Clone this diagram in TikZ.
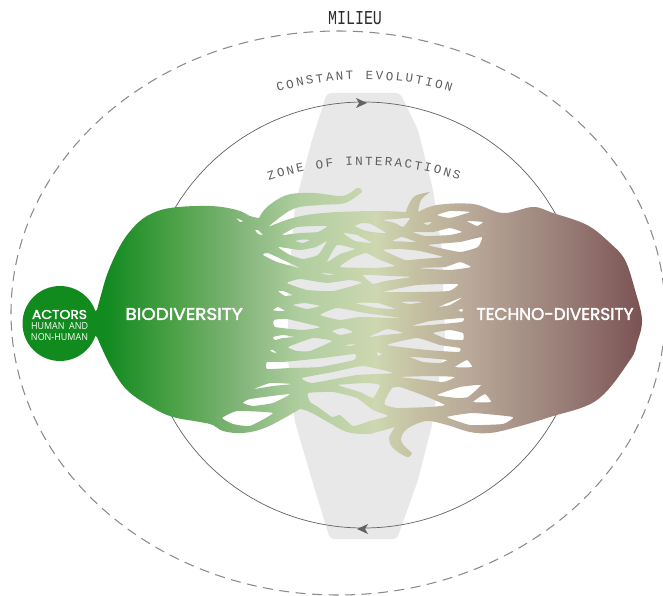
\documentclass[tikz,border=0pt]{standalone}
\usepackage{graphicx}
\usepackage{fontspec}
\setmainfont{Liberation Sans}
\newfontfamily\monofnt{Liberation Mono}
\newfontfamily\milfnt{Liberation Mono}
\newfontfamily\techfnt[FakeBold=2]{Poppins}
\newfontfamily\smallfnt{Open Sans}
\usetikzlibrary{decorations.text}
\definecolor{lineGrey}{HTML}{626262}
\definecolor{dashGrey}{HTML}{8A8A8A}
\definecolor{zoneGrey}{HTML}{E8E8E8}
\definecolor{textGrey}{HTML}{5E5E5E}
\definecolor{milieuInk}{HTML}{2E2E2E}
\definecolor{gradA}{HTML}{118A1E}
\definecolor{gradB}{HTML}{4FA24A}
\definecolor{gradC}{HTML}{85B67C}
\definecolor{gradD}{HTML}{B0CE9F}
\definecolor{gradE}{HTML}{CDD7B0}
\definecolor{gradF}{HTML}{C4BEA1}
\definecolor{gradG}{HTML}{B8A898}
\definecolor{gradH}{HTML}{9A7F79}
\definecolor{gradI}{HTML}{7B5253}
\pgfdeclarehorizontalshading{blobshade}{100bp}{
 color(0bp)=(gradA);
 color(26.8bp)=(gradA);
 color(33.3bp)=(gradB);
 color(39.2bp)=(gradC);
 color(44.3bp)=(gradD);
 color(51bp)=(gradE);
 color(55bp)=(gradF);
 color(59.6bp)=(gradG);
 color(67.6bp)=(gradH);
 color(75bp)=(gradI);
 color(100bp)=(gradI)}
\newcommand\hh[1]{plot[smooth cycle,tension=.25] coordinates {#1}}
\def\blobholes{
\hh{(282,235)(297,227)(327,226)(318,232)(300,233)}
\hh{(295,241)(303,239.5)(310,240)(303,243)}
\hh{(278,247)(300,250)(316,247)(327,241)(318,255)(303,259)(290,255)}
\hh{(327,262)(337,245)(355,249)(340,254)}
\hh{(343,233)(357,235)(372,243)(355,241)}
\hh{(355,226)(362,223)(371,224)(386,233)(372,232)(363,230)}
\hh{(383,220)(395,219)(410,218)(403,227)(395,223)}
\hh{(392,241)(402,237)(416,242)(402,241.5)}
\hh{(383,250)(400,249)(420,251)(443,257)(420,259)(405,260)}
\hh{(340,267)(352,258)(366,253)(380,260)(395,266)(375,268)}
\hh{(320,273)(335,274)(328,275)}
\hh{(363,275)(390,276)(411,277)(385,281)(373,284)}
\hh{(287,283)(300,279)(327,283)(350,280)(362,283)(333,291)(307,290)}
\hh{(383,292)(417,285)(458,284)(449,291)(415,292)}
\hh{(278,291)(283,291)(293,295)(285,296)}
\hh{(263,255)(268,253)(300,268)(277,262)}
\hh{(255,230)(258,230)(263,235)(258,234)}
\hh{(293,305)(305,303)(320,306)(307,309)}
\hh{(273,310)(278,307)(285,311)(277,311)}
\hh{(355,303)(378,303)(395,309)(377,308)}
\hh{(400,302)(412,301.5)(423,302)(410,304)}
\hh{(438,307)(463,297)(450,305)}
\hh{(458,310)(463,309)(462,312)}
\hh{(413,232)(433,232)(450,228)(462,232)(450,235)(425,236)}
\hh{(423,223)(432,222)(428,225)}
\hh{(437,215)(450,211)(470,212)(450,218)}
\hh{(467,221)(483,222)(477,226)}
\hh{(428,245)(460,242)(482,237)(478,247)(460,252)}
\hh{(417,268)(445,267)(460,262)(471,267)(450,270)}
\hh{(274,320)(287,319)(320,327)(303,330)(275,327)}
\hh{(320,315)(337,308)(365,313)(400,318)(360,317)(340,320)}
\hh{(332,331)(343,328)(353,332)(340,335)}
\hh{(273,337)(283,335)(295,337)(283,338)(275,340)}
\hh{(288,347)(313,338)(332,341)(310,351)(297,351)}
\hh{(345,345)(357,344)(350,346)}
\hh{(270,350)(273,350)(277,353)(272,352)}
\hh{(267,362)(283,362)(323,358)(355,354)(354,360)(320,367)(290,368)(267,369)}
\hh{(369,337)(387,329)(403,333)(383,335)}
\hh{(412,326)(430,321)(463,318)(462,322)(430,325)}
\hh{(433,333)(450,330)(463,333)(463,340)(447,339)}
\hh{(387,345)(417,338)(440,345)(460,348)(459,352)(427,350)}
\hh{(377,352)(382,354)(378,356)}
\hh{(410,357)(427,358)(447,360)(440,363)(423,362)}
\hh{(455,367)(467,360)(472,367)}
\hh{(302,378)(333,372)(363,366)(393,373)(357,375)(312,383)}
\hh{(400,377)(430,376)(455,377)(443,382)(417,379)}
\hh{(338,385)(367,383)(380,385)(373,398)(360,392)}
\hh{(308,393)(333,392)(357,398)(373,410)(388,416)(370,421)(353,426)(340,415)(332,417)(318,407)(310,402)}
\hh{(385,400)(392,388)(400,387)(425,396)(445,405)(430,407)(397,408)(385,405)}
\hh{(437,395)(460,387)(481,385)(468,397)(457,398)}
\hh{(473,402)(485,394)(491,402)}
\hh{(447,417)(473,413)(513,417)(503,424)(470,425)}
\hh{(254,389)(270,383)(292,384)(273,386)}
\hh{(243,403)(250,399)(290,394)(273,403)(253,406)}
\hh{(222,418)(237,411)(273,413)(250,426)(233,424)}
\hh{(240,308)(243,308)(240,313)}
\hh{(236,218)(243,221)(240,222)}
}
\tikzset{
 arcline/.style={draw=lineGrey,line width=.7pt},
 milieuline/.style={draw=dashGrey,line width=1.05pt,dash pattern=on 10pt off 6.5pt},
 tiphead/.style={fill=lineGrey},
 bigwhite/.style={text=white,inner sep=0pt,font=\techfnt},
 smallwhite/.style={text=white,inner sep=0pt,font=\smallfnt},
 arctext/.style={decorate,decoration={text along path,text align={fit to path}}},
 edgeseg/.style={smooth,tension=.6},
}
\begin{document}
\begin{tikzpicture}[x=1pt,y=-1pt]
\useasboundingbox (0,0) rectangle (663,596);
\fill[white] (0,0) rectangle (663,596);
% zone of interactions
\fill[zoneGrey,rounded corners=4pt] (327,93) -- (400,93) -- (418,130) -- (433,190) -- (442,250) -- (445,340) -- (432,425) -- (418,480) -- (397,539) -- (330,539) -- (312,480) -- (295,422) -- (288,360) -- (288,290) -- (295,205) -- (312,140) -- cycle;
% milieu and evolution loop
\draw[milieuline] (338,313) ellipse [x radius=327,y radius=282];
\draw[arcline] (363.5,315) ellipse [x radius=218,y radius=213];
\fill[tiphead] (367,103) -- (356,98) -- (359,103) -- (356,108) -- cycle;
\fill[tiphead] (357,529) -- (368,524) -- (365,529) -- (368,534) -- cycle;
% actors disc
\fill[gradA] (60,323.5) circle [radius=37.5];
% merged body with interlaced tendrils
\shade[shading=blobshade,even odd rule]
 plot[edgeseg] coordinates {(97,310)(101,295)(108,272)(120,246)(132,229)(147,216)(170,208)(210,206)(237,210)(250,216)(259,218)}
 -- plot[edgeseg] coordinates {(259,218)(267,207)(287,195)(313,193)(340,196)(350,193)(357,188)(361,189)(362,192)}
 -- plot[edgeseg] coordinates {(362,192)(345,203)(320,205)(293,209)(268,227)}
 -- plot[edgeseg] coordinates {(268,227)(293,218)(323,213)(373,211)(406,212)}
 -- plot[edgeseg] coordinates {(406,212)(408,206)(415,196)(430,192)}
 -- plot[edgeseg] coordinates {(430,192)(421,200)(418,212)}
 -- plot[edgeseg] coordinates {(418,212)(437,205)(473,204)(503,213)(533,207)(553,213)(587,225)(610,243)(625,260)(635,290)(642,320)(637,343)(630,360)(597,400)(550,417)(513,428)(490,433)(470,432)(447,425)(427,421)(410,427)(402,435)(402,443)(412,453)}
 -- plot[edgeseg] coordinates {(412,453)(407,457)(393,448)(389,438)(395,427)}
 -- plot[edgeseg] coordinates {(395,427)(377,432)(367,434)(347,432)(328,422)(310,412)(300,409)}
 -- plot[edgeseg] coordinates {(300,409)(267,427)(243,433)(223,431)(213,425)(200,422)(173,417)(153,408)(127,390)(110,365)(97,337)}
 -- (85,330) -- (85,317) -- cycle
 \blobholes;
% labels
\node[bigwhite] (bio) at (184,314) {\resizebox{117pt}{12pt}{BIODIVERSITY}};
\node[bigwhite] (tech) at (555,314) {\resizebox{157pt}{12pt}{TECHNO-DIVERSITY}};
\node[bigwhite] (actors) at (59.5,314.5) {\resizebox{55pt}{9pt}{ACTORS}};
\node[smallwhite] (human) at (59.5,326.5) {\resizebox{57pt}{7pt}{HUMAN\ \ AND}};
\node[smallwhite] (nonhuman) at (59.5,337.5) {\resizebox{57pt}{7pt}{NON-HUMAN}};
\node[inner sep=0pt,text=milieuInk] (milieu) at (355,18.5) {\resizebox{54pt}{13pt}{\milfnt MILIEU}};
\path[arctext,decoration={text={|\monofnt\fontsize{12.5pt}{15pt}\selectfont\color{textGrey}|CONSTANT EVOLUTION}}] (278,92) .. controls (330,75.3) and (400,75.3) .. (451,92);
\path[arctext,decoration={text={|\monofnt\fontsize{12.5pt}{15pt}\selectfont\color{textGrey}|ZONE OF INTERACTIONS}}] (269,181) .. controls (330,160) and (398,160) .. (459,180);
\end{tikzpicture}
\end{document}
